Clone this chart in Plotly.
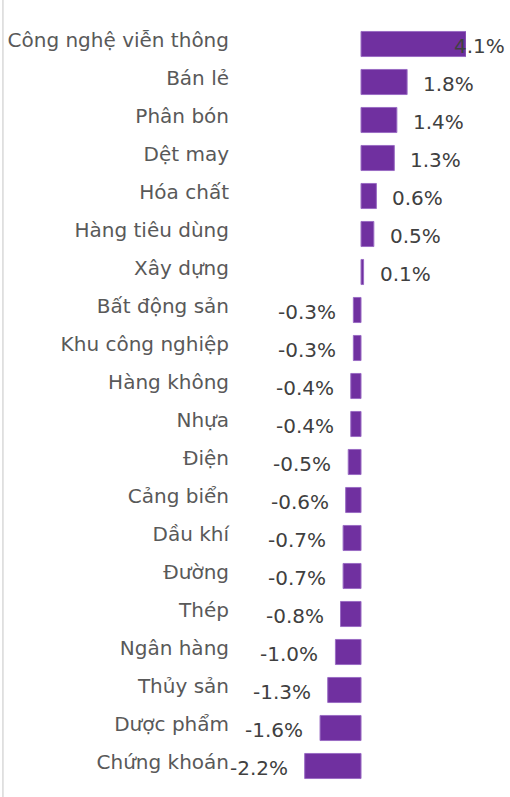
import plotly.graph_objects as go

categories = ["Công nghệ viễn thông", "Bán lẻ", "Phân bón", "Dệt may", "Hóa chất",
              "Hàng tiêu dùng", "Xây dựng", "Bất động sản", "Khu công nghiệp",
              "Hàng không", "Nhựa", "Điện", "Cảng biển", "Dầu khí", "Đường",
              "Thép", "Ngân hàng", "Thủy sản", "Dược phẩm", "Chứng khoán"]
values = [4.1, 1.8, 1.4, 1.3, 0.6, 0.5, 0.1, -0.3, -0.3, -0.4, -0.4, -0.5,
          -0.6, -0.7, -0.7, -0.8, -1.0, -1.3, -1.6, -2.2]
value_labels = [f"{v:.1f}%" for v in values]

FONT = "DejaVu Sans"
fig = go.Figure(go.Bar(
    x=values, y=categories, orientation="h",
    marker=dict(color="#7030A0", line=dict(color="#9a6cc4", width=1)),
    hoverinfo="skip",
))

vmax = max(values)
annotations = []
for c, v, t in zip(categories, values, value_labels):
    if v == vmax:
        anchor, shift = "center", 13
    elif v >= 0:
        anchor, shift = "left", 14
    else:
        anchor, shift = "right", -15
    annotations.append(dict(x=v, y=c, text=t, xref="x", yref="y", showarrow=False,
                            xanchor=anchor, xshift=shift, yshift=-2,
                            font=dict(family=FONT, size=20, color="#404040")))

fig.update_layout(
    width=510, height=797,
    margin=dict(l=240, r=44, t=25, b=12, autoexpand=False),
    paper_bgcolor="white", plot_bgcolor="white",
    bargap=0.34,
    showlegend=False,
    xaxis=dict(range=[-4.727, 4.1], visible=False, showgrid=False, zeroline=False,
               automargin=False),
    yaxis=dict(autorange="reversed", showgrid=False, zeroline=False, showline=False,
               automargin=False,
               ticks="", ticklabelstandoff=10, ticklabelshift=4,
               tickfont=dict(family=FONT, size=20, color="#595959")),
    annotations=annotations,
    shapes=[dict(type="line", xref="paper", yref="paper", x0=-1.049, x1=-1.049,
                 y0=-0.05, y1=1.05, line=dict(color="#d9d9d9", width=1.5))],
)

fig.write_html("out.html", config={"displayModeBar": False},
               post_script="document.body.style.margin='0';document.body.style.padding='0';")
